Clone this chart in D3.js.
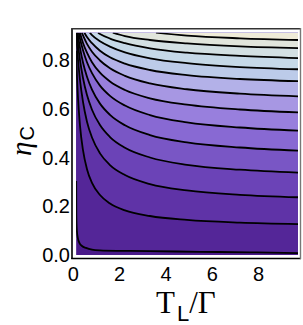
<!DOCTYPE html>
<html>
<head>
<meta charset="utf-8">
<script src="https://cdn.jsdelivr.net/npm/d3@7"></script>
<style>
  body { margin: 0; background: #fff; }
  .tick-label { font-family: "Liberation Sans", Arial, sans-serif; font-size: 20px; fill: #000; }
</style>
</head>
<body>
<div class="chart"></div>
<script>
// axis ticks
const xTicks = [0, 2, 4, 6, 8];
const yTicks = [0.0, 0.2, 0.4, 0.6, 0.8];
const yTickText = ["0.0", "0.2", "0.4", "0.6", "0.8"];

// plotted region (T_L / Gamma, eta_C)
const tlRange = [0.12, 9.7];
const etaRange = [0, 0.912];

// contour lines, bottom to top, as [T_L/Gamma, eta_C]
const contour1 = [[0.125,0.304],[0.13,0.164],[0.151,0.103],[0.194,0.07],[0.268,0.049],[0.376,0.037],[0.548,0.029],[0.807,0.022],[1.152,0.019],[2.016,0.017],[3.31,0.016],[5.468,0.013],[7.626,0.011],[9.7,0.008]];
const contour2 = [[0.12,0.838],[0.16,0.726],[0.203,0.644],[0.289,0.531],[0.419,0.43],[0.591,0.352],[0.807,0.296],[1.152,0.246],[1.584,0.211],[2.231,0.183],[3.31,0.16],[4.907,0.144],[7.195,0.133],[9.7,0.127]];
const contour3 = [[0.123,0.912],[0.16,0.856],[0.203,0.802],[0.289,0.718],[0.419,0.628],[0.591,0.547],[0.807,0.482],[1.152,0.417],[1.584,0.369],[2.231,0.328],[3.31,0.291],[4.907,0.265],[7.195,0.247],[9.7,0.237]];
const contour4 = [[0.151,0.912],[0.203,0.864],[0.289,0.799],[0.419,0.726],[0.591,0.656],[0.807,0.596],[1.152,0.533],[1.584,0.484],[2.231,0.44],[3.31,0.4],[4.907,0.37],[7.195,0.35],[9.7,0.338]];
const contour5 = [[0.186,0.912],[0.203,0.9],[0.289,0.85],[0.419,0.79],[0.591,0.731],[0.807,0.678],[1.152,0.621],[1.584,0.575],[2.231,0.532],[3.31,0.492],[4.907,0.462],[7.195,0.441],[9.7,0.428]];
const contour6 = [[0.233,0.912],[0.289,0.887],[0.419,0.84],[0.591,0.791],[0.807,0.746],[1.152,0.695],[1.584,0.653],[2.231,0.613],[3.31,0.574],[4.907,0.544],[7.195,0.523],[9.7,0.51]];
const contour7 = [[0.285,0.912],[0.419,0.87],[0.591,0.83],[0.807,0.791],[1.152,0.748],[1.584,0.712],[2.231,0.677],[3.31,0.643],[4.907,0.617],[7.195,0.597],[9.7,0.585]];
const contour8 = [[0.367,0.912],[0.591,0.866],[0.807,0.834],[1.152,0.798],[1.584,0.766],[2.231,0.735],[3.31,0.704],[4.907,0.68],[7.195,0.662],[9.7,0.651]];
const contour9 = [[0.479,0.912],[0.591,0.894],[0.807,0.869],[1.152,0.838],[1.584,0.811],[2.231,0.785],[3.31,0.759],[4.907,0.738],[7.195,0.722],[9.7,0.713]];
const contour10 = [[0.712,0.912],[0.807,0.902],[1.152,0.877],[1.584,0.855],[2.231,0.831],[3.31,0.807],[4.907,0.787],[7.195,0.771],[9.7,0.762]];
const contour11 = [[1.066,0.912],[1.152,0.907],[1.584,0.888],[2.231,0.869],[3.31,0.848],[4.907,0.83],[7.195,0.817],[9.7,0.808]];
const contour12 = [[1.705,0.912],[2.231,0.898],[3.31,0.882],[4.907,0.868],[7.195,0.856],[9.7,0.849]];
const contour13 = [[3.569,0.912],[4.907,0.9],[7.195,0.889],[9.7,0.882]];
const contours = [contour1, contour2, contour3, contour4, contour5, contour6, contour7,
                  contour8, contour9, contour10, contour11, contour12, contour13];

// shading between contours, lowest band first
const bandColors = ["#4a1a8a", "#542698", "#5f33a7", "#6b43b7", "#7956c5", "#8869d3", "#987fdd",
                    "#a797e3", "#b3b1e8", "#bccbe9", "#c6d9e8", "#d3e0e3", "#e1e5dc", "#efebd8"];

var width = 303, height = 325;

let x = d3.scaleLinear().domain([0, 9.7]).range([73.3, 298]);
let y = d3.scaleLinear().domain([0, 0.912]).range([255, 32.7]);

let svg = d3.select('.chart')
    .append('svg')
    .attr('width', width)
    .attr('height', height)
    .style('display', 'block');

svg.append('rect')
    .attr('width', width)
    .attr('height', height)
    .attr('fill', '#fff');

let clip = svg.append('clipPath').attr('id', 'plot-clip');
clip.append('rect')
    .attr('x', x(tlRange[0]))
    .attr('y', y(etaRange[1]))
    .attr('width', x(tlRange[1]) - x(tlRange[0]))
    .attr('height', y(etaRange[0]) - y(etaRange[1]));

let plot = svg.append('g').attr('clip-path', 'url(#plot-clip)');

// lowest band fills the whole region, the others are painted on top of it
plot.append('rect')
    .attr('x', x(tlRange[0]))
    .attr('y', y(etaRange[1]))
    .attr('width', x(tlRange[1]) - x(tlRange[0]))
    .attr('height', y(etaRange[0]) - y(etaRange[1]))
    .attr('fill', bandColors[0]);

let line = d3.line()
    .x(d => x(d[0]))
    .y(d => y(d[1]))
    .curve(d3.curveMonotoneX);

contours.forEach((c, i) => {
    let corners = `L${x(tlRange[1])},${y(etaRange[1])}L${x(tlRange[0])},${y(etaRange[1])}Z`;
    plot.append('path')
        .attr('d', line(c) + corners)
        .attr('fill', bandColors[i + 1]);
});

contours.forEach(c => {
    plot.append('path')
        .attr('d', line(c))
        .attr('fill', 'none')
        .attr('stroke', '#000')
        .attr('stroke-width', 1.8);
});

// frame
svg.append('line').attr('x1', 72).attr('x2', 72).attr('y1', 28.5).attr('y2', 259)
    .attr('stroke', '#000').attr('stroke-width', 1.6);
svg.append('line').attr('x1', 71.2).attr('x2', 301).attr('y1', 258.5).attr('y2', 258.5)
    .attr('stroke', '#000').attr('stroke-width', 1.6);
svg.append('line').attr('x1', 71.2).attr('x2', 301).attr('y1', 28.7).attr('y2', 28.7)
    .attr('stroke', '#333').attr('stroke-width', 1.4);
svg.append('line').attr('x1', 300.5).attr('x2', 300.5).attr('y1', 28).attr('y2', 259)
    .attr('stroke', '#777').attr('stroke-width', 1.4);

// tick labels
svg.selectAll('.xtick')
    .data(xTicks)
    .enter()
    .append('text')
    .attr('class', 'tick-label')
    .attr('x', d => x(d))
    .attr('y', 281)
    .attr('text-anchor', 'middle')
    .text(d => d);

svg.selectAll('.ytick')
    .data(yTicks)
    .enter()
    .append('text')
    .attr('class', 'tick-label')
    .attr('x', 70)
    .attr('y', d => y(d) + 7)
    .attr('text-anchor', 'end')
    .text((d, i) => yTickText[i]);

// axis titles
let xTitle = svg.append('text')
    .attr('x', 156)
    .attr('y', 313)
    .attr('font-family', '"Liberation Serif", "Times New Roman", serif')
    .attr('font-size', 31);
xTitle.append('tspan').text('T');
xTitle.append('tspan')
    .attr('font-family', '"Liberation Sans", Arial, sans-serif')
    .attr('font-size', 22)
    .attr('dx', 2)
    .attr('dy', 8)
    .text('L');
xTitle.append('tspan').attr('dy', -8).text('/Γ');

let yTitle = svg.append('text')
    .attr('transform', 'translate(31,156) rotate(-90)')
    .attr('font-family', '"Liberation Serif", "Times New Roman", serif')
    .attr('font-size', 29);
yTitle.append('tspan').attr('font-style', 'italic').text('η');
yTitle.append('tspan')
    .attr('font-family', '"Liberation Sans", Arial, sans-serif')
    .attr('font-size', 20)
    .attr('dy', 3)
    .attr('dx', 1)
    .text('C');
</script>
</body>
</html>
